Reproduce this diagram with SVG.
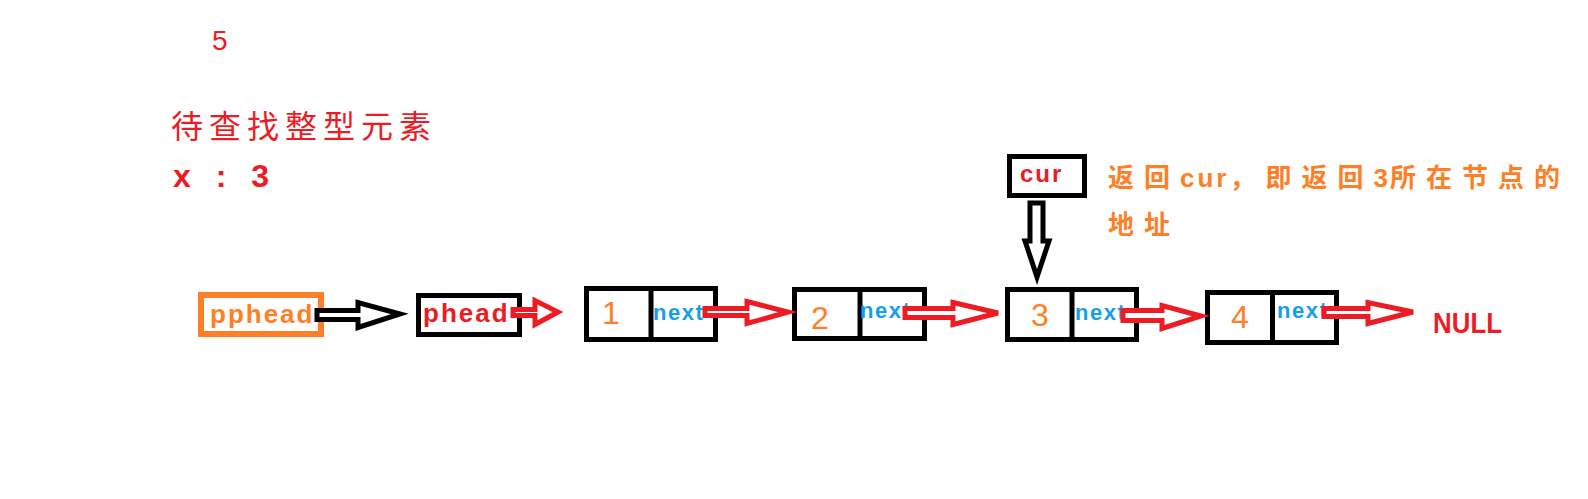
<svg xmlns="http://www.w3.org/2000/svg" width="1588" height="499" viewBox="0 0 1588 499">
<style>
.box{fill:#fff;stroke:#000;stroke-width:5}
.div{stroke:#000;stroke-width:5}
.ra{fill:#fff;stroke:#ed1c24;stroke-width:5;stroke-linejoin:miter}
.ba{fill:#fff;stroke:#000;stroke-width:5;stroke-linejoin:miter}
.num{font-family:"Liberation Sans",Arial,sans-serif;font-size:32px;fill:#ff7f27;text-anchor:middle}
.nx{font-family:"Liberation Sans",Arial,sans-serif;font-size:22px;font-weight:bold;fill:#14a0e6;letter-spacing:1.5px}
.lbl{font-family:"Liberation Sans",Arial,sans-serif;font-weight:bold;font-size:26px;letter-spacing:2px}
.cjk{font-family:"Noto Sans CJK SC",sans-serif}
.lat{font-family:"Liberation Sans",Arial,sans-serif;font-weight:bold}
</style>
<rect width="1588" height="499" fill="#fff"/>

<g id="notes">
<text x="212" y="50" font-family="Liberation Sans,Arial,sans-serif" font-size="28" fill="#ed1c24">5</text>
<text x="171" y="138" class="cjk" font-size="32" letter-spacing="6" fill="#ed1c24">待查找整型元素</text>
<text x="173" y="187" font-family="Liberation Sans,Arial,sans-serif" font-weight="bold" font-size="32" letter-spacing="8" fill="#ed1c24" xml:space="preserve">x : 3</text>
<text x="1108" y="187" class="cjk" font-size="26" font-weight="bold" letter-spacing="10" fill="#ff7f27">返回<tspan class="lat" letter-spacing="3">cur</tspan>，即返回<tspan class="lat" letter-spacing="2">3</tspan>所在节点的</text>
<text x="1108" y="234" class="cjk" font-size="26" font-weight="bold" letter-spacing="10" fill="#ff7f27">地址</text>
</g>

<g id="pphead">
<rect x="201" y="295" width="120" height="39" fill="#fff" stroke="#ff7f27" stroke-width="6"/>
<text x="210" y="323" class="lbl" fill="#ff7f27">pphead</text>
</g>

<g id="phead">
<rect x="418.5" y="295.5" width="101" height="39" class="box"/>
<text x="423" y="322" class="lbl" fill="#ed1c24">phead</text>
</g>

<g id="cur">
<rect x="1009.5" y="156.5" width="75" height="39" class="box"/>
<text x="1020" y="182" font-family="Liberation Sans,Arial,sans-serif" font-weight="bold" font-size="24" letter-spacing="2" fill="#ed1c24">cur</text>
</g>

<g id="node1">
<rect x="586.5" y="288.5" width="129" height="51" class="box"/>
<line x1="651" y1="288" x2="651" y2="340" class="div"/>
<text x="611" y="324" class="num">1</text>
<text x="653" y="320" class="nx">next</text>
</g>

<g id="node2">
<rect x="794.5" y="289.5" width="130" height="49" class="box"/>
<line x1="860" y1="289" x2="860" y2="339" class="div"/>
<text x="820" y="329" class="num">2</text>
<text x="860" y="318" class="nx">next</text>
</g>

<g id="node3">
<rect x="1007.5" y="289.5" width="129" height="50" class="box"/>
<line x1="1072" y1="289" x2="1072" y2="340" class="div"/>
<text x="1040" y="326" class="num">3</text>
<text x="1075" y="320" class="nx">next</text>
</g>

<g id="node4">
<rect x="1207.5" y="292.5" width="129" height="50" class="box"/>
<line x1="1272.5" y1="292" x2="1272.5" y2="343" class="div"/>
<text x="1240" y="328" class="num">4</text>
<text x="1277" y="318" class="nx">next</text>
</g>

<g id="null">
<text x="1433" y="333" font-family="Liberation Sans,Arial,sans-serif" font-weight="bold" font-size="30" fill="#ed1c24" textLength="69" lengthAdjust="spacingAndGlyphs">NULL</text>
</g>

<g id="connectors">
<polygon class="ba" points="317,310.5 358,310.5 358,302.5 400,314 358,327.5 358,319.5 317,319.5"/>
<polygon class="ra" points="513,309.5 535,309.5 535,300.5 558,312 535,324.5 535,315.5 513,315.5"/>
<polygon class="ra" points="705,308.5 747,308.5 747,301.5 788,312 747,323.5 747,315.5 705,315.5"/>
<polygon class="ra" points="905,308.5 953,308.5 953,302.5 998,313 953,324.5 953,317.5 905,317.5"/>
<polygon class="ra" points="1123,310.5 1162,310.5 1162,305.5 1201,316 1162,328.5 1162,320.5 1123,320.5"/>
<polygon class="ra" points="1324,308.5 1368,308.5 1368,302.5 1413,312 1368,323.5 1368,316.5 1324,316.5"/>
<polygon class="ba" points="1030,203 1043,203 1043,241 1049,241 1037,277 1025,241 1030,241"/>
</g>
</svg>
